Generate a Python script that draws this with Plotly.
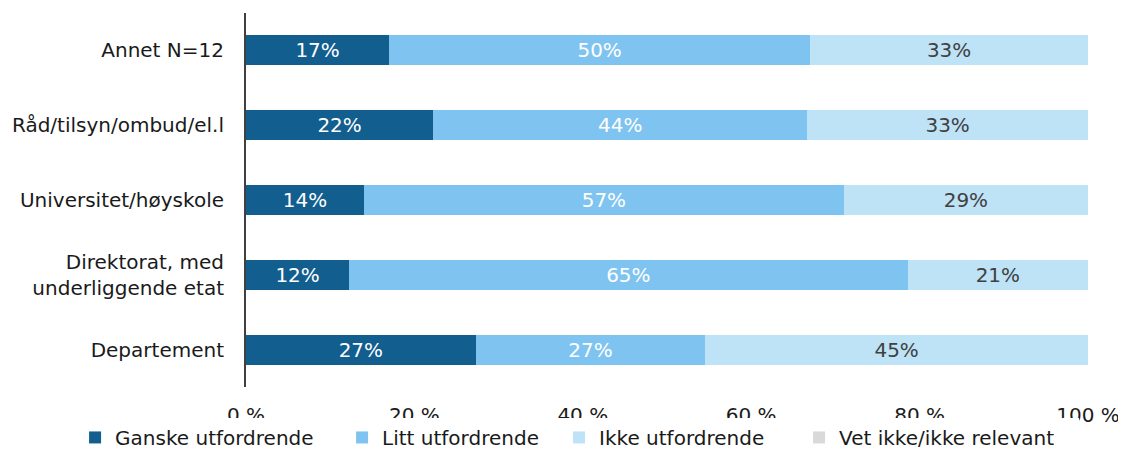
import plotly.graph_objects as go

# Categories, top to bottom
categories = [
    "Annet N=12",
    "Råd/tilsyn/ombud/el.l",
    "Universitet/høyskole",
    "Direktorat, med<br>underliggende etat",
    "Departement",
]

# Raw percentages per answer (chart is 100% stacked)
ganske = [17, 22, 14, 12, 27]
litt = [50, 44, 57, 65, 27]
ikke = [33, 33, 29, 21, 45]
vet_ikke = [0, 0, 0, 0, 0]

tick_vals = [0, 20, 40, 60, 80, 100]
tick_text = [f"{t} %" for t in tick_vals]

series = [
    ("Ganske utfordrende", ganske, "#125E8F", "white", 222),
    ("Litt utfordrende", litt, "#7FC4F0", "white", 172),
    ("Ikke utfordrende", ikke, "#BEE2F6", "#404040", 195),
    ("Vet ikke/ikke relevant", vet_ikke, "#D9D9D9", "#404040", 235),
]

FONT = "DejaVu Sans, sans-serif"

fig = go.Figure()
for name, vals, color, txtcolor, lw in series:
    fig.add_trace(go.Bar(
        y=categories,
        x=vals,
        orientation="h",
        name=name,
        marker=dict(color=color, line=dict(width=0)),
        text=[f"{v}%" if v else "" for v in vals],
        textposition="inside",
        insidetextanchor="middle",
        textangle=0,
        textfont=dict(color=txtcolor, size=20, family=FONT),
        width=0.4,
        legendwidth=lw,
    ))

# page body has an 8px margin, so margins are shifted to compensate
fig.update_layout(
    barmode="stack",
    barnorm="percent",
    width=1126,
    height=454,
    margin=dict(l=238, r=46, t=5, b=75),
    plot_bgcolor="white",
    paper_bgcolor="white",
    font=dict(family=FONT, size=20, color="#1a1a1a"),
    legend=dict(
        orientation="h",
        x=-0.203, xanchor="left",
        y=-0.187, yanchor="bottom",
        font=dict(size=20, family=FONT),
        traceorder="normal",
        itemwidth=30,
    ),
)

fig.update_xaxes(
    range=[0, 100],
    tickmode="array",
    tickvals=tick_vals,
    ticktext=tick_text,
    showgrid=False,
    zeroline=False,
    showline=False,
    automargin=False,
    ticks="outside",
    ticklen=10,
    tickcolor="rgba(0,0,0,0)",
    tickfont=dict(size=20, color="#1a1a1a"),
)
fig.update_yaxes(
    autorange="reversed",
    showgrid=False,
    showline=True,
    linecolor="#404040",
    linewidth=2,
    ticks="",
    automargin=False,
    ticklabelstandoff=16,
    tickfont=dict(size=20, color="#1a1a1a"),
)

fig.write_html("out.html")
